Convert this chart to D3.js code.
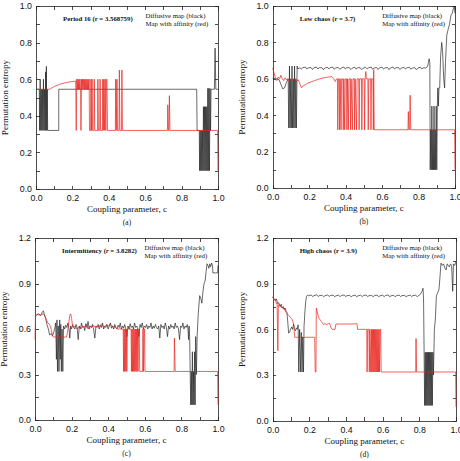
<!DOCTYPE html>
<html>
<head>
<meta charset="utf-8">
<script src="https://cdnjs.cloudflare.com/ajax/libs/d3/7.8.5/d3.min.js"></script>
<style>
  body { margin: 0; background: #fff; }
  svg { display: block; font-family: "Liberation Serif", "Times New Roman", serif; }
  .axis path, .axis line { stroke: #222; stroke-width: 0.8; shape-rendering: crispEdges; }
  .axis text { font-size: 8.8px; fill: #111; }
</style>
</head>
<body>
<svg id="chart" width="460" height="461"></svg>
<script>
// ---- data ----
var xMajor = [0, 0.2, 0.4, 0.6, 0.8, 1.0]
var xMinor = [0.1, 0.3, 0.5, 0.7, 0.9]
var yMajorAB = [0, 0.2, 0.4, 0.6, 0.8, 1.0]
var yMinorAB = [0.1, 0.3, 0.5, 0.7, 0.9]
var yMajorCD = [0, 0.3, 0.6, 0.9, 1.2]
var yMinorCD = [0.15, 0.45, 0.75, 1.05]

var panelTitles = ["Period 16 (r = 3.568759)", "Low chaos (r = 3.7)", "Intermittency (r = 3.8282)", "High chaos (r = 3.9)"]
var panelTags = ["(a)", "(b)", "(c)", "(d)"]
var legendLines = ["Diffusive map (black)", "Map with affinity (red)"]
var xTitle = "Coupling parameter, c"
var yTitle = "Permutation entropy"

// [c, entropy]
var aBlack = [[0,0.545],[0.018,0.545],[0.02,0.32],[0.023,0.6],[0.026,0.32],[0.029,0.545],[0.032,0.32],[0.035,0.545],[0.038,0.32],[0.041,0.6],[0.044,0.32],[0.047,0.545],[0.05,0.32],[0.053,0.64],[0.055,0.32],[0.057,0.67],[0.06,0.32],[0.062,0.545],[0.064,0.32],[0.125,0.32],[0.125,0.545],[0.883,0.545],[0.885,0.32],[0.897,0.32],[0.899,0.1],[0.902,0.32],[0.905,0.1],[0.908,0.32],[0.911,0.1],[0.914,0.32],[0.917,0.1],[0.92,0.45],[0.923,0.1],[0.926,0.45],[0.929,0.1],[0.932,0.45],[0.935,0.1],[0.938,0.45],[0.941,0.1],[0.944,0.55],[0.947,0.1],[0.95,0.55],[0.953,0.1],[0.956,0.55],[0.959,0.32],[0.962,0.545],[0.98,0.545],[0.984,0.77],[0.988,0.545],[1.0,0.545]]
var aRed = [[0,0.545],[0.075,0.545],[0.1,0.56],[0.13,0.572],[0.16,0.58],[0.19,0.586],[0.218,0.59],[0.221,0.32],[0.224,0.6],[0.227,0.545],[0.23,0.6],[0.233,0.545],[0.236,0.6],[0.239,0.545],[0.242,0.6],[0.245,0.545],[0.247,0.32],[0.25,0.6],[0.253,0.545],[0.256,0.6],[0.259,0.545],[0.262,0.6],[0.265,0.545],[0.268,0.6],[0.271,0.545],[0.274,0.6],[0.277,0.545],[0.28,0.6],[0.283,0.545],[0.286,0.6],[0.289,0.545],[0.292,0.6],[0.294,0.32],[0.3,0.32],[0.302,0.6],[0.305,0.32],[0.308,0.6],[0.311,0.32],[0.318,0.32],[0.32,0.6],[0.323,0.32],[0.338,0.32],[0.34,0.6],[0.343,0.32],[0.35,0.32],[0.352,0.6],[0.355,0.32],[0.365,0.32],[0.367,0.6],[0.37,0.32],[0.373,0.6],[0.377,0.32],[0.38,0.6],[0.384,0.32],[0.387,0.6],[0.39,0.6],[0.393,0.32],[0.436,0.32],[0.438,0.6],[0.441,0.32],[0.445,0.6],[0.448,0.32],[0.456,0.32],[0.458,0.65],[0.461,0.32],[0.47,0.32],[0.472,0.65],[0.475,0.32],[0.722,0.32],[0.724,0.46],[0.727,0.32],[0.73,0.32],[0.733,0.51],[0.736,0.32],[0.998,0.32],[1.0,0.1]]

var bBlack = [[0,0.603],[0.02,0.6],[0.035,0.595],[0.045,0.57],[0.055,0.545],[0.065,0.55],[0.075,0.58],[0.085,0.6],[0.088,0.33],[0.092,0.67],[0.095,0.33],[0.099,0.6],[0.102,0.33],[0.106,0.67],[0.109,0.33],[0.113,0.6],[0.116,0.33],[0.12,0.67],[0.123,0.33],[0.127,0.6],[0.13,0.33],[0.134,0.67],[0.137,0.655],[0.15,0.66],[0.158,0.653],[0.165,0.662],[0.18,0.664],[0.187,0.654],[0.195,0.66],[0.21,0.662],[0.218,0.651],[0.225,0.66],[0.24,0.665],[0.248,0.654],[0.255,0.661],[0.27,0.661],[0.278,0.65],[0.285,0.659],[0.3,0.663],[0.308,0.654],[0.315,0.662],[0.33,0.664],[0.338,0.652],[0.345,0.66],[0.36,0.662],[0.368,0.652],[0.375,0.658],[0.39,0.665],[0.398,0.654],[0.405,0.66],[0.42,0.662],[0.428,0.651],[0.435,0.658],[0.45,0.664],[0.458,0.653],[0.465,0.661],[0.48,0.661],[0.488,0.65],[0.495,0.658],[0.51,0.663],[0.518,0.654],[0.525,0.66],[0.54,0.665],[0.548,0.652],[0.555,0.659],[0.57,0.662],[0.578,0.651],[0.585,0.66],[0.6,0.664],[0.608,0.653],[0.615,0.66],[0.63,0.662],[0.638,0.65],[0.645,0.659],[0.66,0.665],[0.668,0.654],[0.675,0.66],[0.69,0.662],[0.698,0.651],[0.705,0.659],[0.72,0.663],[0.728,0.653],[0.735,0.66],[0.75,0.664],[0.758,0.652],[0.765,0.659],[0.78,0.661],[0.788,0.65],[0.795,0.658],[0.81,0.664],[0.818,0.654],[0.825,0.66],[0.84,0.66],[0.85,0.668],[0.858,0.71],[0.862,0.69],[0.864,0.1],[0.867,0.32],[0.87,0.1],[0.873,0.45],[0.876,0.1],[0.879,0.32],[0.882,0.1],[0.885,0.45],[0.888,0.1],[0.891,0.32],[0.894,0.1],[0.897,0.45],[0.9,0.1],[0.903,0.45],[0.906,0.55],[0.909,0.45],[0.912,0.55],[0.916,0.55],[0.921,0.72],[0.927,0.8],[0.932,0.75],[0.938,0.6],[0.943,0.55],[0.948,0.7],[0.955,0.84],[0.962,0.87],[0.97,0.9],[0.978,0.95],[0.985,0.96],[0.992,0.99],[0.996,1.0],[1.0,0.96]]
var bRed = [[0,0.66],[0.008,0.63],[0.015,0.603],[0.022,0.59],[0.03,0.61],[0.038,0.6],[0.045,0.62],[0.052,0.6],[0.06,0.59],[0.068,0.605],[0.075,0.595],[0.083,0.6],[0.09,0.588],[0.1,0.6],[0.11,0.59],[0.12,0.6],[0.13,0.585],[0.14,0.595],[0.15,0.57],[0.158,0.55],[0.165,0.56],[0.175,0.565],[0.19,0.575],[0.21,0.583],[0.23,0.59],[0.25,0.597],[0.27,0.603],[0.29,0.607],[0.31,0.61],[0.325,0.612],[0.335,0.6],[0.343,0.585],[0.35,0.6],[0.355,0.6],[0.357,0.32],[0.36,0.6],[0.365,0.6],[0.367,0.32],[0.37,0.6],[0.375,0.32],[0.378,0.6],[0.385,0.6],[0.387,0.32],[0.39,0.6],[0.395,0.32],[0.398,0.6],[0.405,0.6],[0.407,0.32],[0.41,0.6],[0.415,0.32],[0.418,0.6],[0.425,0.6],[0.427,0.32],[0.43,0.6],[0.437,0.32],[0.44,0.6],[0.447,0.6],[0.449,0.32],[0.452,0.6],[0.46,0.32],[0.463,0.6],[0.472,0.6],[0.474,0.32],[0.477,0.6],[0.487,0.6],[0.489,0.32],[0.492,0.6],[0.502,0.6],[0.504,0.32],[0.507,0.6],[0.511,0.64],[0.514,0.6],[0.522,0.6],[0.524,0.32],[0.527,0.6],[0.537,0.6],[0.539,0.32],[0.542,0.6],[0.55,0.6],[0.552,0.32],[0.554,0.65],[0.557,0.32],[0.742,0.32],[0.744,0.42],[0.747,0.32],[0.751,0.32],[0.754,0.51],[0.757,0.32],[0.998,0.32],[1.0,0.1]]

var cBlack = [[0,0.68],[0.01,0.695],[0.02,0.7],[0.03,0.69],[0.04,0.71],[0.046,0.72],[0.052,0.69],[0.058,0.67],[0.065,0.63],[0.073,0.6],[0.08,0.56],[0.088,0.57],[0.095,0.555],[0.103,0.58],[0.109,0.61],[0.113,0.64],[0.117,0.4],[0.12,0.66],[0.123,0.32],[0.127,0.62],[0.131,0.32],[0.135,0.66],[0.138,0.4],[0.141,0.63],[0.144,0.32],[0.148,0.6],[0.152,0.32],[0.156,0.62],[0.162,0.6],[0.168,0.625],[0.174,0.61],[0.18,0.64],[0.186,0.6],[0.19,0.54],[0.195,0.62],[0.2,0.6],[0.206,0.63],[0.212,0.61],[0.218,0.6],[0.224,0.63],[0.23,0.61],[0.236,0.53],[0.242,0.62],[0.248,0.6],[0.254,0.64],[0.26,0.61],[0.266,0.62],[0.272,0.59],[0.278,0.635],[0.284,0.61],[0.29,0.65],[0.296,0.6],[0.302,0.62],[0.308,0.61],[0.314,0.63],[0.32,0.6],[0.327,0.54],[0.333,0.62],[0.339,0.61],[0.345,0.63],[0.351,0.6],[0.357,0.625],[0.363,0.61],[0.369,0.64],[0.375,0.6],[0.381,0.62],[0.387,0.61],[0.393,0.63],[0.4,0.6],[0.406,0.62],[0.412,0.64],[0.418,0.605],[0.424,0.62],[0.43,0.6],[0.436,0.63],[0.442,0.61],[0.448,0.6],[0.454,0.625],[0.46,0.61],[0.466,0.64],[0.472,0.6],[0.478,0.62],[0.484,0.605],[0.49,0.63],[0.496,0.6],[0.502,0.55],[0.508,0.62],[0.514,0.6],[0.52,0.635],[0.526,0.61],[0.532,0.62],[0.538,0.6],[0.544,0.64],[0.55,0.61],[0.556,0.62],[0.562,0.6],[0.568,0.55],[0.574,0.63],[0.58,0.61],[0.586,0.64],[0.592,0.6],[0.598,0.62],[0.604,0.61],[0.61,0.63],[0.616,0.6],[0.622,0.62],[0.628,0.61],[0.634,0.64],[0.64,0.6],[0.646,0.62],[0.652,0.605],[0.658,0.63],[0.664,0.61],[0.67,0.6],[0.676,0.62],[0.682,0.54],[0.688,0.63],[0.694,0.61],[0.7,0.62],[0.706,0.6],[0.712,0.64],[0.718,0.61],[0.724,0.55],[0.73,0.62],[0.736,0.6],[0.742,0.63],[0.748,0.61],[0.754,0.62],[0.76,0.6],[0.766,0.64],[0.772,0.61],[0.778,0.62],[0.784,0.6],[0.79,0.53],[0.796,0.62],[0.802,0.61],[0.808,0.64],[0.814,0.6],[0.82,0.62],[0.826,0.61],[0.832,0.63],[0.836,0.6],[0.839,0.53],[0.842,0.62],[0.845,0.55],[0.848,0.32],[0.851,0.1],[0.854,0.32],[0.857,0.1],[0.86,0.45],[0.863,0.1],[0.866,0.32],[0.869,0.1],[0.872,0.45],[0.875,0.1],[0.878,0.55],[0.882,0.3],[0.886,0.55],[0.892,0.7],[0.9,0.82],[0.906,0.8],[0.912,0.77],[0.918,0.85],[0.924,0.9],[0.93,0.92],[0.935,0.98],[0.94,1.03],[0.945,1.02],[0.95,1.0],[0.955,1.03],[0.96,1.01],[0.965,1.035],[0.97,1.02],[0.972,0.97],[0.985,0.97],[0.998,0.97],[1.0,1.02]]
var cRed = [[0,0.53],[0.003,0.69],[0.015,0.695],[0.03,0.69],[0.045,0.7],[0.055,0.685],[0.063,0.66],[0.07,0.64],[0.08,0.63],[0.088,0.6],[0.095,0.56],[0.1,0.547],[0.173,0.547],[0.18,0.6],[0.19,0.69],[0.195,0.7],[0.2,0.67],[0.205,0.62],[0.21,0.61],[0.22,0.62],[0.23,0.6],[0.24,0.615],[0.25,0.6],[0.26,0.62],[0.27,0.61],[0.28,0.63],[0.29,0.6],[0.3,0.62],[0.31,0.61],[0.32,0.625],[0.33,0.61],[0.34,0.62],[0.35,0.615],[0.36,0.63],[0.37,0.62],[0.38,0.615],[0.39,0.625],[0.4,0.62],[0.41,0.63],[0.42,0.62],[0.43,0.615],[0.44,0.61],[0.45,0.6],[0.46,0.6],[0.482,0.6],[0.484,0.32],[0.487,0.6],[0.49,0.32],[0.493,0.6],[0.496,0.32],[0.499,0.6],[0.502,0.32],[0.505,0.6],[0.51,0.6],[0.525,0.6],[0.527,0.32],[0.53,0.6],[0.533,0.32],[0.536,0.6],[0.539,0.32],[0.542,0.6],[0.545,0.32],[0.548,0.6],[0.551,0.32],[0.554,0.6],[0.557,0.32],[0.56,0.6],[0.563,0.32],[0.566,0.6],[0.57,0.6],[0.572,0.32],[0.575,0.32],[0.588,0.32],[0.59,0.6],[0.593,0.32],[0.596,0.6],[0.599,0.6],[0.601,0.32],[0.76,0.32],[0.762,0.54],[0.766,0.32],[0.998,0.32],[1.0,0.1]]

var dBlack = [[0,0.81],[0.008,0.8],[0.015,0.79],[0.02,0.8],[0.027,0.77],[0.033,0.775],[0.04,0.75],[0.046,0.765],[0.052,0.74],[0.058,0.75],[0.063,0.73],[0.068,0.74],[0.073,0.72],[0.078,0.71],[0.082,0.65],[0.087,0.575],[0.092,0.58],[0.097,0.6],[0.103,0.615],[0.108,0.6],[0.114,0.635],[0.119,0.6],[0.124,0.59],[0.129,0.61],[0.134,0.6],[0.139,0.63],[0.142,0.32],[0.147,0.6],[0.151,0.32],[0.156,0.58],[0.16,0.32],[0.164,0.55],[0.168,0.32],[0.171,0.62],[0.176,0.72],[0.18,0.78],[0.184,0.815],[0.19,0.825],[0.197,0.82],[0.21,0.826],[0.218,0.815],[0.225,0.822],[0.24,0.827],[0.248,0.816],[0.255,0.822],[0.27,0.824],[0.278,0.814],[0.285,0.821],[0.3,0.826],[0.308,0.816],[0.315,0.822],[0.33,0.825],[0.338,0.814],[0.345,0.82],[0.36,0.824],[0.368,0.815],[0.375,0.822],[0.39,0.826],[0.398,0.815],[0.405,0.821],[0.42,0.823],[0.428,0.814],[0.435,0.82],[0.45,0.825],[0.458,0.814],[0.465,0.82],[0.48,0.824],[0.488,0.815],[0.495,0.822],[0.51,0.826],[0.518,0.815],[0.525,0.821],[0.54,0.823],[0.548,0.814],[0.555,0.822],[0.57,0.825],[0.578,0.814],[0.585,0.82],[0.6,0.824],[0.608,0.815],[0.615,0.822],[0.63,0.826],[0.638,0.814],[0.645,0.82],[0.66,0.824],[0.668,0.814],[0.675,0.821],[0.69,0.825],[0.698,0.815],[0.705,0.822],[0.72,0.823],[0.728,0.814],[0.735,0.82],[0.75,0.825],[0.758,0.815],[0.765,0.822],[0.78,0.824],[0.788,0.815],[0.795,0.821],[0.805,0.83],[0.815,0.85],[0.82,0.87],[0.823,0.8],[0.826,0.45],[0.829,0.1],[0.832,0.45],[0.835,0.1],[0.838,0.45],[0.841,0.1],[0.844,0.45],[0.847,0.1],[0.85,0.45],[0.853,0.1],[0.856,0.45],[0.859,0.1],[0.862,0.45],[0.865,0.1],[0.868,0.45],[0.871,0.1],[0.874,0.45],[0.877,0.3],[0.882,0.6],[0.887,0.66],[0.893,0.82],[0.9,0.84],[0.907,0.86],[0.913,0.95],[0.918,1.035],[0.925,1.02],[0.932,1.03],[0.94,1.0],[0.946,0.99],[0.952,1.03],[0.958,1.02],[0.964,1.01],[0.97,1.03],[0.976,1.02],[0.982,0.85],[0.986,1.03],[0.993,1.02],[1.0,1.045]]
var dRed = [[0,0.815],[0.008,0.79],[0.014,0.8],[0.02,0.77],[0.024,0.775],[0.028,0.46],[0.031,0.76],[0.036,0.765],[0.042,0.75],[0.05,0.745],[0.056,0.735],[0.062,0.74],[0.068,0.72],[0.074,0.71],[0.08,0.7],[0.088,0.69],[0.096,0.68],[0.104,0.67],[0.11,0.65],[0.115,0.63],[0.12,0.548],[0.229,0.548],[0.232,0.32],[0.236,0.32],[0.238,0.74],[0.242,0.72],[0.248,0.69],[0.254,0.67],[0.26,0.66],[0.266,0.65],[0.272,0.64],[0.278,0.63],[0.285,0.64],[0.292,0.63],[0.3,0.635],[0.31,0.64],[0.318,0.61],[0.324,0.6],[0.34,0.6],[0.345,0.635],[0.37,0.635],[0.4,0.635],[0.43,0.635],[0.46,0.637],[0.463,0.6],[0.513,0.6],[0.515,0.32],[0.518,0.6],[0.525,0.6],[0.527,0.32],[0.53,0.6],[0.535,0.32],[0.538,0.6],[0.541,0.32],[0.544,0.6],[0.547,0.32],[0.55,0.6],[0.553,0.32],[0.556,0.6],[0.559,0.32],[0.562,0.6],[0.565,0.32],[0.568,0.6],[0.571,0.32],[0.574,0.6],[0.577,0.32],[0.58,0.6],[0.583,0.32],[0.586,0.6],[0.589,0.6],[0.592,0.32],[0.78,0.32],[0.782,0.54],[0.785,0.32],[0.998,0.32],[1.0,0.09]]

// ---- layout ----
var panels = [
  { black: aBlack, red: aRed, x0: 36, x1: 218, y0: 6, y1: 189, ymax: 1.0, yMajor: yMajorAB, yMinor: yMinorAB },
  { black: bBlack, red: bRed, x0: 272.7, x1: 455, y0: 6, y1: 188, ymax: 1.0, yMajor: yMajorAB, yMinor: yMinorAB },
  { black: cBlack, red: cRed, x0: 35, x1: 218, y0: 238, y1: 420, ymax: 1.2, yMajor: yMajorCD, yMinor: yMinorCD },
  { black: dBlack, red: dRed, x0: 272.7, x1: 456, y0: 238, y1: 420.7, ymax: 1.2, yMajor: yMajorCD, yMinor: yMinorCD }
]

var svg = d3.select('#chart')
var fmt = d3.format('.1f')
var tick = 3.5

panels.forEach(function (p, i) {
  var x = d3.scaleLinear().domain([0, 1]).range([p.x0, p.x1])
  var y = d3.scaleLinear().domain([0, p.ymax]).range([p.y1, p.y0])
  var g = svg.append('g')

  var allX = xMajor.concat(xMinor)
  var allY = p.yMajor.concat(p.yMinor)
  var labelX = function (d) { return xMajor.indexOf(d) >= 0 ? fmt(d) : '' }
  var labelY = function (d) { return p.yMajor.indexOf(d) >= 0 ? fmt(d) : '' }

  g.append('g').attr('class', 'axis')
    .attr('transform', 'translate(0,' + p.y1 + ')')
    .call(d3.axisBottom(x).tickValues(allX).tickFormat(labelX).tickSizeInner(-tick).tickSizeOuter(0).tickPadding(6))
  g.append('g').attr('class', 'axis')
    .attr('transform', 'translate(0,' + p.y0 + ')')
    .call(d3.axisTop(x).tickValues(allX).tickFormat('').tickSizeInner(-tick).tickSizeOuter(0))
  g.append('g').attr('class', 'axis')
    .attr('transform', 'translate(' + p.x0 + ',0)')
    .call(d3.axisLeft(y).tickValues(allY).tickFormat(labelY).tickSizeInner(-tick).tickSizeOuter(0).tickPadding(4))
  g.append('g').attr('class', 'axis')
    .attr('transform', 'translate(' + p.x1 + ',0)')
    .call(d3.axisRight(y).tickValues(allY).tickFormat('').tickSizeInner(-tick).tickSizeOuter(0))

  var line = d3.line()
    .x(function (d) { return x(d[0]) })
    .y(function (d) { return y(d[1]) })

  g.append('path').datum(p.black)
    .attr('d', line).attr('fill', 'none')
    .attr('stroke', '#1a1a1a').attr('stroke-width', 0.65).attr('stroke-linejoin', 'miter')
  g.append('path').datum(p.red)
    .attr('d', line).attr('fill', 'none')
    .attr('stroke', '#e8231d').attr('stroke-width', 0.7).attr('stroke-linejoin', 'miter')

  // panel title, r italic
  var t = g.append('text')
    .attr('x', p.x0 + 27).attr('y', p.y0 + 15.3)
    .style('font-size', '6.8px').style('font-weight', 'bold').attr('fill', '#111')
  var parts = panelTitles[i].split('r =')
  t.append('tspan').text(parts[0])
  t.append('tspan').style('font-style', i == 2 ? 'italic' : 'normal').text('r')
  t.append('tspan').text(' =' + parts[1])

  g.selectAll('.leg').data(legendLines).enter().append('text')
    .attr('x', p.x0 + 109.5)
    .attr('y', function (d, k) { return p.y0 + 12.2 + k * 8.2 })
    .style('font-size', '6.8px').attr('fill', '#111')
    .text(function (d) { return d })

  g.append('text')
    .attr('x', (p.x0 + p.x1) / 2).attr('y', p.y1 + 23)
    .attr('text-anchor', 'middle').style('font-size', '9px').attr('fill', '#111')
    .text(xTitle)
  g.append('text')
    .attr('x', (p.x0 + p.x1) / 2).attr('y', p.y1 + 36)
    .attr('text-anchor', 'middle').style('font-size', '7.5px').attr('fill', '#111')
    .text(panelTags[i])
  g.append('text')
    .attr('transform', 'translate(' + (p.x0 - 28) + ',' + ((p.y0 + p.y1) / 2) + ') rotate(-90)')
    .attr('text-anchor', 'middle').style('font-size', '9.2px').attr('fill', '#111')
    .text(yTitle)
})
</script>
</body>
</html>
